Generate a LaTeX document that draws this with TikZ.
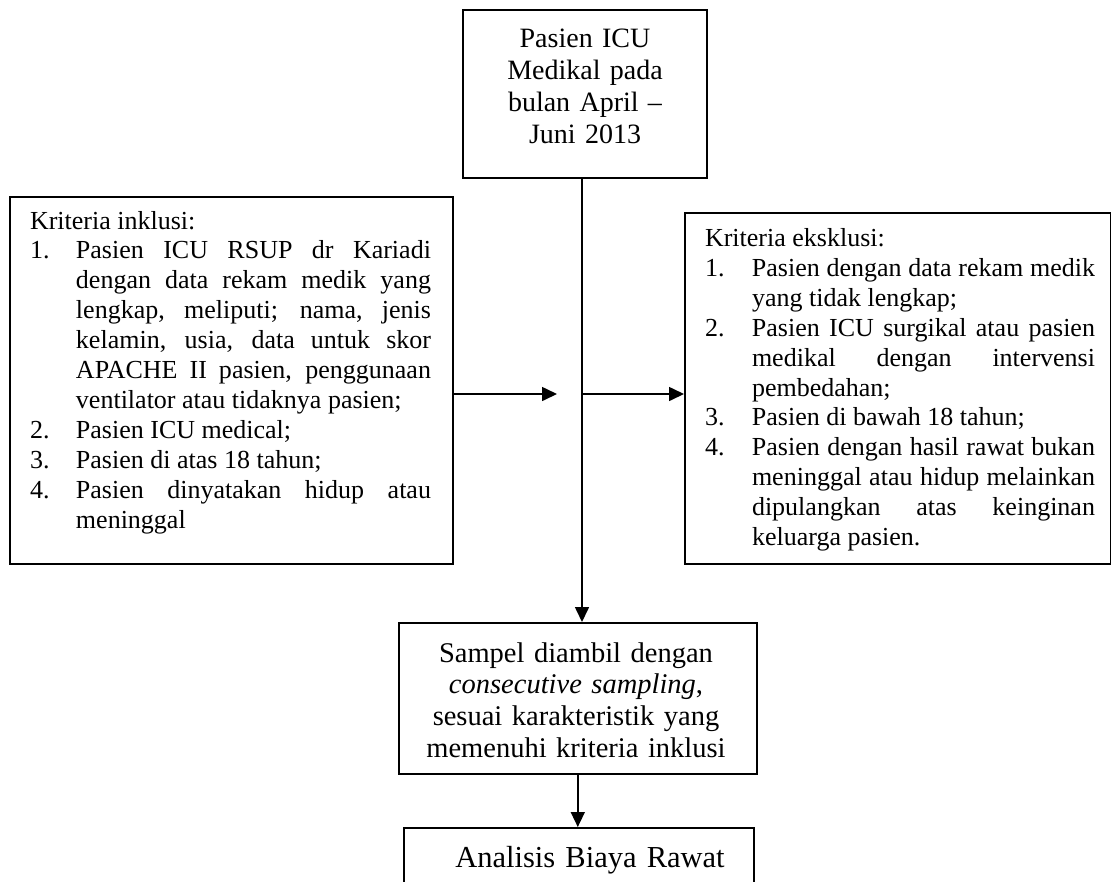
\documentclass[tikz,border=0pt]{standalone}
\usepackage{fontspec}
\setmainfont{Liberation Serif}
\usetikzlibrary{arrows.meta}
\newcommand\critem[2]{\par\noindent\hangindent=#1\hangafter=1\makebox[#1][l]{#2}}
\newcommand\parsetup{\parindent=0pt\parskip=0pt\tolerance=10000\hbadness=10000\hyphenpenalty=10000\exhyphenpenalty=10000}
\begin{document}
\begin{tikzpicture}[x=1pt,y=-1pt,
  boxnode/.style={draw, line width=1.6pt, inner sep=0pt, anchor=north west},
  txt/.style={inner sep=0pt, outer sep=0pt},
  arr/.style={line width=1.6pt, -{Triangle[length=15pt,width=14pt]}}]
\path[use as bounding box, clip] (0,0) rectangle (1111,881);
\fill[white] (0,0) rectangle (1111,881);

% boxes
\node[boxnode, minimum width=244pt, minimum height=168pt] (topbox) at (462,9) {};
\node[boxnode, minimum width=443pt, minimum height=367pt] (inkbox) at (9,196) {};
\node[boxnode, minimum width=426pt, minimum height=351pt] (eksbox) at (684,212) {};
\node[boxnode, minimum width=358pt, minimum height=151pt] (sampel) at (398,622) {};
\node[boxnode, minimum width=350pt, minimum height=120pt] (analisis) at (403,827) {};

% texts
\node[txt, text width=240pt, align=center, anchor=base, font=\fontsize{28}{32.3}\selectfont] (toptext) at (585,47)
  {Pasien ICU\\Medikal pada\\bulan April –\\Juni 2013};

\node[txt, text width=401pt, align=justify, anchor=base west, font=\fontsize{26}{29.9}\selectfont] (inktext) at (30,229)
  {\parsetup Kriteria inklusi:
   \critem{46pt}{1.}Pasien ICU RSUP dr Kariadi \linebreak dengan data rekam medik yang \linebreak lengkap, meliputi; nama, jenis \linebreak kelamin, usia, data untuk skor \linebreak APACHE II pasien, penggunaan \linebreak ventilator atau tidaknya pasien;
   \critem{46pt}{2.}Pasien ICU medical;
   \critem{46pt}{3.}Pasien di atas 18 tahun;
   \critem{46pt}{4.}Pasien dinyatakan hidup atau \linebreak meninggal\par};

\node[txt, text width=390pt, align=justify, anchor=base west, font=\fontsize{26}{29.9}\selectfont] (ekstext) at (705,246.5)
  {\parsetup Kriteria eksklusi:
   \critem{47pt}{1.}Pasien dengan data rekam medik \linebreak yang tidak lengkap;
   \critem{47pt}{2.}Pasien ICU surgikal atau pasien \linebreak medikal dengan intervensi \linebreak pembedahan;
   \critem{47pt}{3.}Pasien di bawah 18 tahun;
   \critem{47pt}{4.}Pasien dengan hasil rawat bukan \linebreak meninggal atau hidup melainkan \linebreak dipulangkan atas keinginan \linebreak keluarga pasien.\par};

\node[txt, text width=354pt, align=center, anchor=base, font=\fontsize{28.5}{31.7}\selectfont] (sampeltext) at (576,662)
  {Sampel diambil dengan\\\textit{consecutive sampling},\\sesuai karakteristik yang\\memenuhi kriteria inklusi};

\node[txt, text width=346pt, align=center, anchor=base, font=\fontsize{30.5}{34}\selectfont] (analisistext) at (590,867)
  {Analisis Biaya Rawat};

% connectors
\coordinate (spine) at (582,394);
\coordinate (tip1) at (557,394);
\draw[arr] (topbox.south -| spine) -- (sampel.north -| spine);
\draw[arr] (inkbox.east |- spine) -- (tip1);
\draw[arr] (spine) -- (eksbox.west |- spine);
\draw[arr] (sampel.south) -- (sampel.south |- analisis.north);
\end{tikzpicture}
\end{document}
